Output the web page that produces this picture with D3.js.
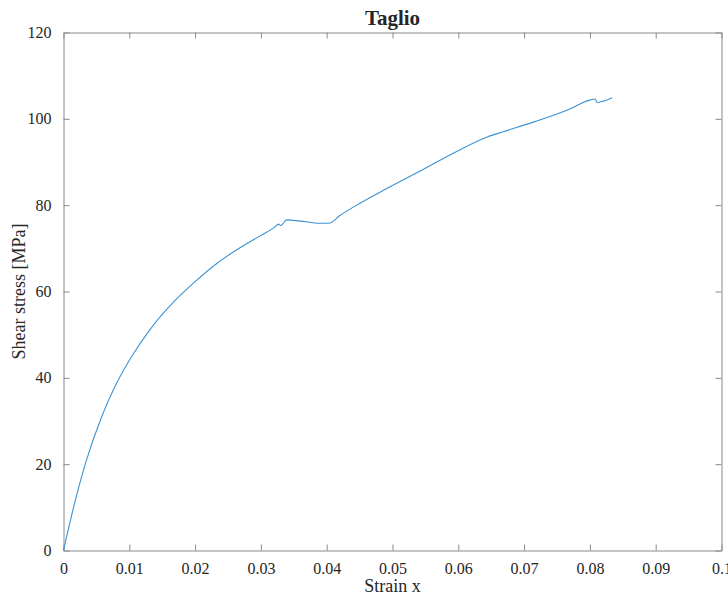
<!DOCTYPE html>
<html>
<head>
<meta charset="utf-8">
<script src="https://cdn.jsdelivr.net/npm/d3@7/dist/d3.min.js"></script>
<style>
  html, body { margin: 0; padding: 0; background: #fff; }
  svg { display: block; }
  text { font-family: "Liberation Serif", "Times New Roman", serif; fill: #262626; }
</style>
</head>
<body>
<svg id="chart" width="728" height="597"></svg>
<script>
// Shear test: strain vs shear stress
const strain = [0, 0.0015, 0.0033, 0.0058, 0.0076, 0.0101, 0.0132, 0.0170, 0.0200,
  0.0233, 0.0270, 0.0300, 0.0320, 0.0327, 0.0330, 0.0334, 0.0339, 0.0360, 0.0390, 0.0403,
  0.0420, 0.0441, 0.0492, 0.0542, 0.0593, 0.0644, 0.0668, 0.0715, 0.0765, 0.0801,
  0.0808, 0.0811, 0.0820, 0.0834];
const stress = [0, 9.8, 20.0, 31.0, 37.3, 44.3, 51.3, 58.0, 62.3,
  66.5, 70.3, 73.0, 74.8, 75.6, 75.3, 75.8, 76.6, 76.3, 75.8, 75.8,
  77.6, 79.6, 83.9, 87.9, 92.1, 95.8, 97.0, 99.3, 102.0, 104.4,
  104.6, 103.8, 104.1, 104.9];
const xTicks = [0, 0.01, 0.02, 0.03, 0.04, 0.05, 0.06, 0.07, 0.08, 0.09, 0.1];
const yTicks = [0, 20, 40, 60, 80, 100, 120];

const svg = d3.select("#chart");
const m = { left: 63.5, right: 721.5, top: 32.5, bottom: 550.5 };

const x = d3.scaleLinear().domain([0, 0.1]).range([m.left, m.right]);
const y = d3.scaleLinear().domain([0, 120]).range([m.bottom, m.top]);

const axisColor = "#8a8a8a";
const tickLen = 6;

function styleAxis(g) {
  g.select(".domain").attr("stroke", axisColor).attr("stroke-width", 1);
  g.selectAll(".tick line").attr("stroke", axisColor).attr("stroke-width", 1);
  g.selectAll(".tick text")
    .style("font-family", '"Liberation Serif", "Times New Roman", serif')
    .style("font-size", "16px").attr("fill", "#262626");
}

// bottom axis with labels, inward ticks
svg.append("g").attr("transform", `translate(0,${m.bottom})`)
  .call(d3.axisBottom(x).tickValues(xTicks).tickFormat(d => d3.format("~g")(d))
    .tickSizeInner(-tickLen).tickSizeOuter(0).tickPadding(12))
  .call(styleAxis);
// left axis with labels
svg.append("g").attr("transform", `translate(${m.left},0)`)
  .call(d3.axisLeft(y).tickValues(yTicks).tickSizeInner(-tickLen).tickSizeOuter(0).tickPadding(12))
  .call(styleAxis);
// top and right box axes, ticks only
svg.append("g").attr("transform", `translate(0,${m.top})`)
  .call(d3.axisTop(x).tickValues(xTicks).tickFormat("").tickSizeInner(-tickLen).tickSizeOuter(0))
  .call(styleAxis);
svg.append("g").attr("transform", `translate(${m.right},0)`)
  .call(d3.axisRight(y).tickValues(yTicks).tickFormat("").tickSizeInner(-tickLen).tickSizeOuter(0))
  .call(styleAxis);

// curve
const pts = strain.map((s, i) => [s, stress[i]]);
svg.append("path")
  .datum(pts)
  .attr("fill", "none")
  .attr("stroke", "#3d93d3")
  .attr("stroke-width", 1.1)
  .attr("stroke-linejoin", "round")
  .attr("d", d3.line().x(d => x(d[0])).y(d => y(d[1])).curve(d3.curveMonotoneX));

// title and axis labels
svg.append("text").attr("x", (m.left + m.right) / 2).attr("y", 25)
  .attr("text-anchor", "middle").style("font-size", "21px").style("font-weight", "bold")
  .attr("fill", "#000").text("Taglio");
svg.append("text").attr("x", (m.left + m.right) / 2).attr("y", 592)
  .attr("text-anchor", "middle").style("font-size", "18px").text("Strain x");
svg.append("text")
  .attr("transform", `translate(25,${(m.top + m.bottom) / 2}) rotate(-90)`)
  .attr("text-anchor", "middle").style("font-size", "18px").text("Shear stress [MPa]");
</script>
</body>
</html>
